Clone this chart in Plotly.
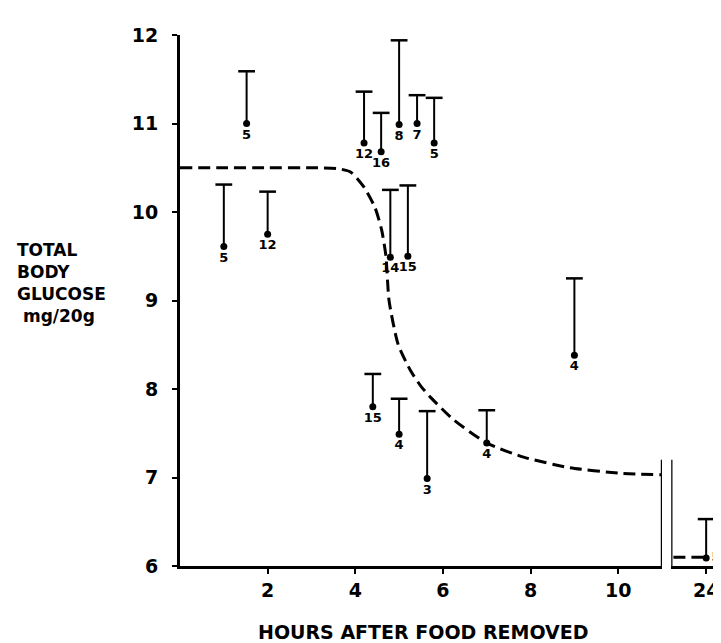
import plotly.graph_objects as go

# points before the axis break (hours after food removed)
hours = [1.0, 1.52, 2.0, 4.2, 4.59, 5.0, 5.41, 5.8, 4.8, 5.2, 4.4, 5.0, 5.64, 7.0, 9.0]
glucose = [9.61, 11.0, 9.75, 10.78, 10.68, 10.99, 11.0, 10.78, 9.49, 9.5, 7.8, 7.49, 6.99, 7.39, 8.38]
upper = [10.31, 11.59, 10.23, 11.36, 11.12, 11.94, 11.32, 11.29, 10.25, 10.3, 8.17, 7.89, 7.75, 7.76, 9.25]
n_labels = ["5", "5", "12", "12", "16", "8", "7", "5", "14", "15", "15", "4", "3", "4", "4"]

# 24 h point (after break)
hours_24 = [24]
glucose_24 = [6.09]
upper_24 = [6.53]
n_24 = ["5"]

# dashed fitted curve
curve_x = [0, 1, 2, 3, 3.6, 3.9, 4.2, 4.45, 4.6, 4.7, 4.77, 4.98, 5.27, 5.5, 5.73, 6.25, 7.0, 7.84, 8.9, 10, 11]
curve_y = [10.5, 10.5, 10.5, 10.5, 10.49, 10.45, 10.28, 10.05, 9.8, 9.5, 9.0, 8.5, 8.2, 8.03, 7.9, 7.65, 7.39, 7.23, 7.11, 7.05, 7.03]
curve24_x = [23.25, 24]
curve24_y = [6.1, 6.1]

FONT = "DejaVu Sans"
fig = go.Figure()

def add_points(xs, ys, tops, labels, xaxis, textpos):
        fig.add_trace(go.Scatter(
                x=xs, y=ys, mode="markers+text", xaxis=xaxis,
                marker=dict(color="black", size=7),
                text=labels, textposition=textpos,
                textfont=dict(family=FONT, size=13, color="black", weight="bold"),
                error_y=dict(type="data", symmetric=False,
                             array=[t - y for t, y in zip(tops, ys)],
                             arrayminus=[0] * len(ys),
                             color="black", thickness=2, width=0),
                cliponaxis=False, showlegend=False))
        # caps
        fig.add_trace(go.Scatter(
                x=xs, y=tops, mode="markers", xaxis=xaxis,
                marker=dict(symbol="line-ew-open", size=12, color="black",
                            line=dict(color="black", width=2.5)),
                cliponaxis=False, showlegend=False))

fig.add_trace(go.Scatter(x=curve_x, y=curve_y, mode="lines",
                         line=dict(color="black", width=3, dash="12px,6px",
                                   shape="spline", smoothing=0.6),
                         cliponaxis=False, showlegend=False))
fig.add_trace(go.Scatter(x=curve24_x, y=curve24_y, mode="lines", xaxis="x2",
                         line=dict(color="black", width=3, dash="12px,6px"),
                         cliponaxis=False, showlegend=False))

add_points(hours, glucose, upper, n_labels, "x", "bottom center")
add_points(hours_24, glucose_24, upper_24, n_24, "x2", "middle right")

# axis break marks
fig.add_shape(type="line", xref="x", yref="y", x0=11, x1=11, y0=5.88, y1=7.2,
              line=dict(color="black", width=2.5))
fig.add_shape(type="line", xref="x2", yref="y", x0=23.2, x1=23.2, y0=5.88, y1=7.2,
              line=dict(color="black", width=2.5))

axis_common = dict(showgrid=False, zeroline=False, showline=True, linecolor="black",
                   linewidth=3, ticks="outside", ticklen=5, tickwidth=2,
                   tickcolor="black", ticklabeloverflow="allow",
                   tickfont=dict(family=FONT, size=19, color="black", weight="bold"))

# page body has an 8px margin, so the figure is sized to the visible area
fig.update_layout(
        width=713, height=635,
        margin=dict(l=172, r=0, t=27, b=77),
        paper_bgcolor="white", plot_bgcolor="white",
        xaxis=dict(domain=[0, 0.891], range=[0, 11], tickvals=[2, 4, 6, 8, 10],
                   anchor="y", ticklabelstandoff=0, **axis_common),
        xaxis2=dict(domain=[0.908, 1], range=[23.2, 24.34], tickvals=[24],
                    anchor="y", ticklabelstandoff=0, **axis_common),
        yaxis=dict(range=[6, 12], tickvals=[6, 7, 8, 9, 10, 11, 12],
                   ticklabelstandoff=10, **axis_common),
        annotations=[
                dict(text="TOTAL<br>BODY<br>GLUCOSE<br> mg/20g", xref="paper", yref="paper",
                     x=-0.305, y=0.533, xanchor="left", yanchor="middle", align="left",
                     showarrow=False,
                     font=dict(family=FONT, size=17, color="black", weight="bold")),
                dict(text="HOURS AFTER FOOD REMOVED", xref="paper", yref="paper",
                     x=0.451, y=-0.124, xanchor="center", yanchor="middle",
                     showarrow=False,
                     font=dict(family=FONT, size=19, color="black", weight="bold")),
        ],
)

fig.write_html("out.html")
